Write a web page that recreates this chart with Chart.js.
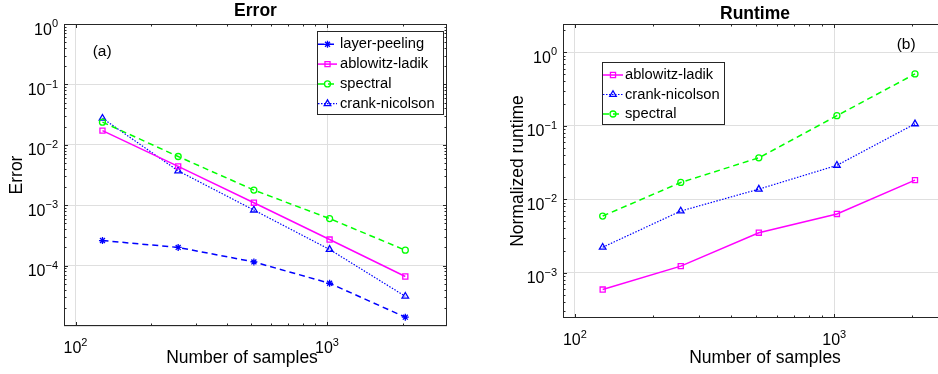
<!DOCTYPE html>
<html lang="en">
<head>
<meta charset="UTF-8">
<title>Error and runtime</title>
<script src="https://cdn.jsdelivr.net/npm/chart.js"></script>
<style>
    body{ margin:0; width:938px; height:374px; overflow:hidden; background:#fff; position:relative; }
    .box{ position:absolute; top:0; height:374px; }
</style>
</head>
<body>
<div class="box" style="left:0;width:470px"><canvas id="errChart"></canvas></div>
<div class="box" style="left:470px;width:500px"><canvas id="runChart"></canvas></div>
<script>
// x values (number of samples)
const samples = [128, 256, 512, 1024, 2048];

// (a) error
const errLayerPeeling  = [2.6e-4, 2.0e-4, 1.15e-4, 5.1e-5, 1.4e-5];
const errAblowitzLadik = [1.72e-2, 4.4e-3, 1.1e-3, 2.7e-4, 6.6e-5];
const errSpectral      = [2.37e-2, 6.4e-3, 1.78e-3, 6.0e-4, 1.8e-4];
const errCrankNicolson = [2.75e-2, 3.7e-3, 8.3e-4, 1.85e-4, 3.1e-5];

// (b) normalized runtime
const runAblowitzLadik = [5.9e-4, 1.23e-3, 3.5e-3, 6.3e-3, 1.82e-2];
const runCrankNicolson = [2.22e-3, 6.9e-3, 1.37e-2, 2.89e-2, 0.106];
const runSpectral      = [5.9e-3, 1.69e-2, 3.66e-2, 0.137, 0.506];

// tick labels, as powers of ten
const xTickExps   = [2, 3];
const errTickExps = [0, -1, -2, -3, -4];
const runTickExps = [0, -1, -2, -3];

const FONT = '"Liberation Sans", Arial, sans-serif';
const GRID = '#dfdfdf';
const AXIS = '#262626';

const STYLE = {
    'layer-peeling':  { color:'#0000ff', dash:[6,4],     width:1.5, point:'star',     r:3.5 },
    'ablowitz-ladik': { color:'#ff00ff', dash:[],        width:1.5, point:'rect',     r:3.6 },
    'spectral':       { color:'#00ff00', dash:[6,4],     width:1.5, point:'circle',   r:3   },
    'crank-nicolson': { color:'#0000ff', dash:[1.5,1.5], width:1.2, point:'triangle', r:3.8 }
};

function series(label, vals){
    const s = STYLE[label];
    return {
        label: label,
        data: samples.map((x, i) => ({ x: x, y: vals[i] })),
        borderColor: s.color, borderWidth: s.width, borderDash: s.dash,
        pointStyle: s.point, pointRadius: s.r, pointBorderColor: s.color,
        pointBackgroundColor: 'rgba(0,0,0,0)', pointBorderWidth: 1.3,
        tension: 0, fill: false
    };
}

function isDecade(v){
    const l = Math.log10(v);
    return Math.abs(l - Math.round(l)) < 1e-9;
}

function logTicks(min, max){
    const out = [];
    for (let e = Math.floor(Math.log10(min)); e <= Math.ceil(Math.log10(max)); e++){
        for (let m = 1; m <= 9; m++){
            const v = m * Math.pow(10, e);
            if (v > min * 1.0001 && v < max * 0.9999) out.push({ v: v, major: m === 1 });
        }
    }
    return out;
}

function drawPow(ctx, exp, x, y, align){
    ctx.font = '16px ' + FONT;
    const bw = ctx.measureText('10').width;
    const es = String(exp).replace('-', '\u2212');
    ctx.font = '11px ' + FONT;
    const ew = ctx.measureText(es).width;
    const x0 = align === 'right' ? x - bw - ew : x - (bw + ew) / 2;
    ctx.font = '16px ' + FONT;
    ctx.fillText('10', x0, y);
    ctx.font = '11px ' + FONT;
    ctx.fillText(es, x0 + bw, y - 7.3);
}

// matlab-like box, inward ticks, power labels, texts and legend
const matlabAxes = {
    id: 'matlabAxes',
    afterDatasetsDraw(chart, args, o){
        const ctx = chart.ctx, a = chart.chartArea;
        const xs = chart.scales.x, ys = chart.scales.y;
        ctx.save();

        ctx.strokeStyle = AXIS; ctx.lineWidth = 1;
        ctx.beginPath();
        logTicks(xs.min, xs.max).forEach(t => {
            const px = Math.round(xs.getPixelForValue(t.v)) + 0.5, len = t.major ? 4 : 2.5;
            ctx.moveTo(px, a.bottom); ctx.lineTo(px, a.bottom - len);
            ctx.moveTo(px, a.top);    ctx.lineTo(px, a.top + len);
        });
        logTicks(ys.min, ys.max).forEach(t => {
            const py = Math.round(ys.getPixelForValue(t.v)) + 0.5, len = t.major ? 4 : 2.5;
            ctx.moveTo(a.left, py);  ctx.lineTo(a.left + len, py);
            ctx.moveTo(a.right, py); ctx.lineTo(a.right - len, py);
        });
        ctx.stroke();
        ctx.strokeRect(a.left + 0.5, a.top + 0.5, a.right - a.left - 1, a.bottom - a.top - 1);

        // tick labels
        ctx.fillStyle = '#000'; ctx.textAlign = 'left'; ctx.textBaseline = 'alphabetic';
        o.yExps.forEach(e => drawPow(ctx, e, a.left - 6, ys.getPixelForValue(Math.pow(10, e)) + 10.5, 'right'));
        xTickExps.forEach(e => drawPow(ctx, e, xs.getPixelForValue(Math.pow(10, e)), a.bottom + 27.3, 'center'));

        // title, axis labels, panel letter
        ctx.textAlign = 'center';
        ctx.font = 'bold 17.5px ' + FONT;
        ctx.fillText(o.title, o.titleX, o.titleY);
        ctx.font = '17.5px ' + FONT;
        ctx.fillText('Number of samples', o.xlabelX, 363.3);
        ctx.save();
        ctx.translate(o.ylabelX, (a.top + a.bottom) / 2);
        ctx.rotate(-Math.PI / 2);
        ctx.fillText(o.ylabel, 0, 0);
        ctx.restore();
        ctx.textAlign = 'left'; ctx.textBaseline = 'middle';
        ctx.font = '15.5px ' + FONT;
        ctx.fillText(o.panel, o.panelX, o.panelY);

        // legend
        const L = o.legend;
        ctx.fillStyle = '#fff';
        ctx.fillRect(L.x, L.y, L.w, L.h);
        ctx.strokeStyle = AXIS; ctx.lineWidth = 1;
        ctx.strokeRect(L.x + 0.5, L.y + 0.5, L.w, L.h);
        chart.data.datasets.forEach((ds, i) => {
            const cy = L.y + L.first + i * L.row;
            ctx.strokeStyle = ds.borderColor; ctx.lineWidth = ds.borderWidth;
            ctx.setLineDash(ds.borderDash);
            ctx.beginPath(); ctx.moveTo(L.sx, cy); ctx.lineTo(L.sx + L.sw, cy); ctx.stroke();
            ctx.setLineDash([]);
            ctx.lineWidth = ds.pointBorderWidth; ctx.fillStyle = 'rgba(0,0,0,0)';
            if (Chart.helpers && Chart.helpers.drawPoint){
                Chart.helpers.drawPoint(ctx, { pointStyle: ds.pointStyle, radius: ds.pointRadius,
                    borderWidth: ds.pointBorderWidth, rotation: 0 }, L.sx + L.sw / 2, cy);
            }
            ctx.fillStyle = '#000';
            ctx.font = '14.7px ' + FONT;
            ctx.fillText(ds.label, L.tx, cy);
        });
        ctx.restore();
    }
};

function logAxis(min, max, size, key){
    return {
        type: 'logarithmic', min: min, max: max,
        ticks: { display: false },
        border: { display: false },
        grid: {
            drawTicks: false, lineWidth: 1,
            color: c => (c.tick && isDecade(c.tick.value)) ? GRID : 'rgba(0,0,0,0)'
        },
        afterFit: s => { s[key] = size; }
    };
}

function makeChart(id, datasets, cfg){
    return new Chart(document.getElementById(id), {
        type: 'line',
        data: { datasets: datasets },
        options: {
            responsive: true, maintainAspectRatio: false, animation: false,
            events: [],
            layout: { autoPadding: false, padding: { top: cfg.top, right: cfg.right, left: 0, bottom: 0 } },
            plugins: { legend: { display: false }, tooltip: { enabled: false }, matlabAxes: cfg.text },
            scales: {
                x: logAxis(90, 3000, cfg.bottomSpace, 'height'),
                y: logAxis(cfg.ymin, cfg.ymax, cfg.leftSpace, 'width')
            }
        },
        plugins: [matlabAxes]
    });
}

makeChart('errChart', [
    series('layer-peeling', errLayerPeeling),
    series('ablowitz-ladik', errAblowitzLadik),
    series('spectral', errSpectral),
    series('crank-nicolson', errCrankNicolson)
], {
    top: 24, right: 23, leftSpace: 64, bottomSpace: 48, ymin: 1e-5, ymax: 1,
    text: {
        yExps: errTickExps, title: 'Error', titleX: 255.5, titleY: 16,
        xlabelX: 242, ylabel: 'Error', ylabelX: 22,
        panel: '(a)', panelX: 92.7, panelY: 51.5,
        legend: { x: 317, y: 31, w: 126, h: 83, first: 13.3, row: 19.8, sx: 318, sw: 19, tx: 340 }
    }
});

makeChart('runChart', [
    series('ablowitz-ladik', runAblowitzLadik),
    series('crank-nicolson', runCrankNicolson),
    series('spectral', runSpectral)
], {
    top: 24, right: 12, leftSpace: 93, bottomSpace: 56, ymin: 2.42e-4, ymax: 2.42,
    text: {
        yExps: runTickExps, title: 'Runtime', titleX: 285, titleY: 19.3,
        xlabelX: 295, ylabel: 'Normalized runtime', ylabelX: 53,
        panel: '(b)', panelX: 426.7, panelY: 44.5,
        legend: { x: 132, y: 62, w: 122, h: 62, first: 13, row: 19.5, sx: 133, sw: 20, tx: 155 }
    }
});
</script>
</body>
</html>
